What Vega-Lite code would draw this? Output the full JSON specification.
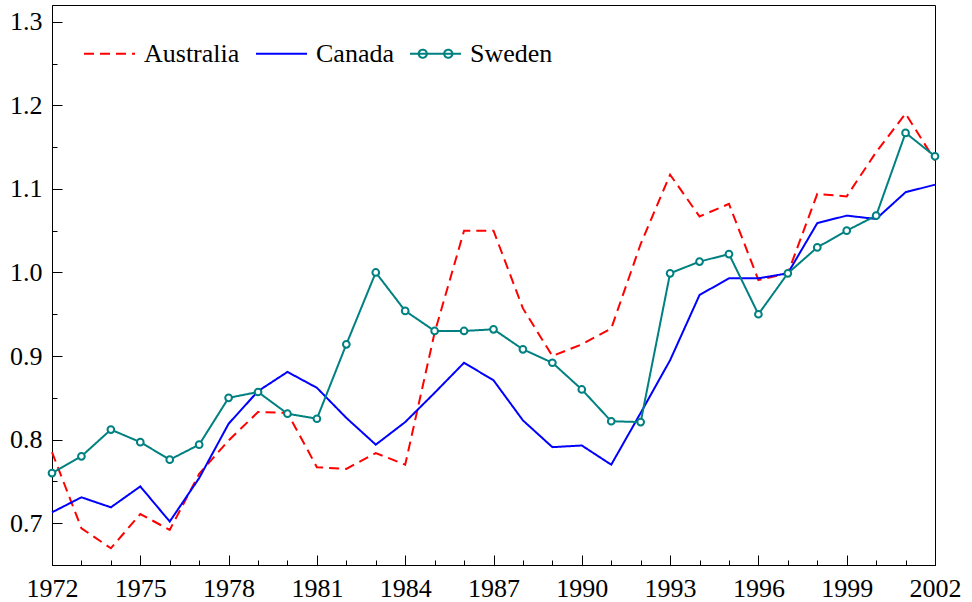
{
  "$schema": "https://vega.github.io/schema/vega-lite/v6.json",
  "width": 883,
  "height": 560,
  "autosize": {"type": "none"},
  "padding": {"left": 52, "top": 5, "right": 37, "bottom": 37},
  "background": "white",
  "config": {
    "view": {"stroke": "black", "strokeWidth": 1},
    "font": "'Liberation Serif', 'DejaVu Serif'",
    "axis": {
      "domainColor": "black", "domainWidth": 1, "tickColor": "black", "tickWidth": 1,
      "labelFont": "'Liberation Serif', 'DejaVu Serif'", "labelFontSize": 26, "labelColor": "black",
      "grid": false, "title": null
    },
    "legend": {"labelFont": "'Liberation Serif', 'DejaVu Serif'"}
  },
  "datasets": {
    "series": [
      {"year": 1972, "country": "Australia", "value": 0.785},
      {"year": 1973, "country": "Australia", "value": 0.694},
      {"year": 1974, "country": "Australia", "value": 0.670},
      {"year": 1975, "country": "Australia", "value": 0.711},
      {"year": 1976, "country": "Australia", "value": 0.692},
      {"year": 1977, "country": "Australia", "value": 0.759},
      {"year": 1978, "country": "Australia", "value": 0.799},
      {"year": 1979, "country": "Australia", "value": 0.833},
      {"year": 1980, "country": "Australia", "value": 0.832},
      {"year": 1981, "country": "Australia", "value": 0.767},
      {"year": 1982, "country": "Australia", "value": 0.765},
      {"year": 1983, "country": "Australia", "value": 0.784},
      {"year": 1984, "country": "Australia", "value": 0.770},
      {"year": 1985, "country": "Australia", "value": 0.928},
      {"year": 1986, "country": "Australia", "value": 1.050},
      {"year": 1987, "country": "Australia", "value": 1.050},
      {"year": 1988, "country": "Australia", "value": 0.957},
      {"year": 1989, "country": "Australia", "value": 0.900},
      {"year": 1990, "country": "Australia", "value": 0.914},
      {"year": 1991, "country": "Australia", "value": 0.933},
      {"year": 1992, "country": "Australia", "value": 1.034},
      {"year": 1993, "country": "Australia", "value": 1.117},
      {"year": 1994, "country": "Australia", "value": 1.067},
      {"year": 1995, "country": "Australia", "value": 1.082},
      {"year": 1996, "country": "Australia", "value": 0.991},
      {"year": 1997, "country": "Australia", "value": 0.999},
      {"year": 1998, "country": "Australia", "value": 1.094},
      {"year": 1999, "country": "Australia", "value": 1.091},
      {"year": 2000, "country": "Australia", "value": 1.144},
      {"year": 2001, "country": "Australia", "value": 1.190},
      {"year": 2002, "country": "Australia", "value": 1.134},
      {"year": 1972, "country": "Canada", "value": 0.713},
      {"year": 1973, "country": "Canada", "value": 0.731},
      {"year": 1974, "country": "Canada", "value": 0.719},
      {"year": 1975, "country": "Canada", "value": 0.744},
      {"year": 1976, "country": "Canada", "value": 0.702},
      {"year": 1977, "country": "Canada", "value": 0.754},
      {"year": 1978, "country": "Canada", "value": 0.819},
      {"year": 1979, "country": "Canada", "value": 0.858},
      {"year": 1980, "country": "Canada", "value": 0.881},
      {"year": 1981, "country": "Canada", "value": 0.862},
      {"year": 1982, "country": "Canada", "value": 0.826},
      {"year": 1983, "country": "Canada", "value": 0.794},
      {"year": 1984, "country": "Canada", "value": 0.821},
      {"year": 1985, "country": "Canada", "value": 0.856},
      {"year": 1986, "country": "Canada", "value": 0.892},
      {"year": 1987, "country": "Canada", "value": 0.871},
      {"year": 1988, "country": "Canada", "value": 0.823},
      {"year": 1989, "country": "Canada", "value": 0.791},
      {"year": 1990, "country": "Canada", "value": 0.793},
      {"year": 1991, "country": "Canada", "value": 0.770},
      {"year": 1992, "country": "Canada", "value": 0.832},
      {"year": 1993, "country": "Canada", "value": 0.895},
      {"year": 1994, "country": "Canada", "value": 0.973},
      {"year": 1995, "country": "Canada", "value": 0.993},
      {"year": 1996, "country": "Canada", "value": 0.993},
      {"year": 1997, "country": "Canada", "value": 0.999},
      {"year": 1998, "country": "Canada", "value": 1.059},
      {"year": 1999, "country": "Canada", "value": 1.068},
      {"year": 2000, "country": "Canada", "value": 1.064},
      {"year": 2001, "country": "Canada", "value": 1.096},
      {"year": 2002, "country": "Canada", "value": 1.105},
      {"year": 1972, "country": "Sweden", "value": 0.760},
      {"year": 1973, "country": "Sweden", "value": 0.780},
      {"year": 1974, "country": "Sweden", "value": 0.812},
      {"year": 1975, "country": "Sweden", "value": 0.797},
      {"year": 1976, "country": "Sweden", "value": 0.776},
      {"year": 1977, "country": "Sweden", "value": 0.794},
      {"year": 1978, "country": "Sweden", "value": 0.850},
      {"year": 1979, "country": "Sweden", "value": 0.857},
      {"year": 1980, "country": "Sweden", "value": 0.831},
      {"year": 1981, "country": "Sweden", "value": 0.825},
      {"year": 1982, "country": "Sweden", "value": 0.914},
      {"year": 1983, "country": "Sweden", "value": 1.000},
      {"year": 1984, "country": "Sweden", "value": 0.954},
      {"year": 1985, "country": "Sweden", "value": 0.930},
      {"year": 1986, "country": "Sweden", "value": 0.930},
      {"year": 1987, "country": "Sweden", "value": 0.932},
      {"year": 1988, "country": "Sweden", "value": 0.908},
      {"year": 1989, "country": "Sweden", "value": 0.892},
      {"year": 1990, "country": "Sweden", "value": 0.860},
      {"year": 1991, "country": "Sweden", "value": 0.822},
      {"year": 1992, "country": "Sweden", "value": 0.821},
      {"year": 1993, "country": "Sweden", "value": 0.999},
      {"year": 1994, "country": "Sweden", "value": 1.013},
      {"year": 1995, "country": "Sweden", "value": 1.022},
      {"year": 1996, "country": "Sweden", "value": 0.950},
      {"year": 1997, "country": "Sweden", "value": 0.999},
      {"year": 1998, "country": "Sweden", "value": 1.030},
      {"year": 1999, "country": "Sweden", "value": 1.050},
      {"year": 2000, "country": "Sweden", "value": 1.068},
      {"year": 2001, "country": "Sweden", "value": 1.167},
      {"year": 2002, "country": "Sweden", "value": 1.139}
    ]
  },
  "data": {"name": "series"},
  "resolve": {"axis": {"x": "independent", "y": "independent"}},
  "layer": [
    {
      "mark": {"type": "line", "strokeWidth": 2},
      "encoding": {
        "x": {
          "field": "year", "type": "quantitative",
          "scale": {"domain": [1972, 2002], "nice": false, "zero": false},
          "axis": {"orient": "bottom", "values": [1972, 1975, 1978, 1981, 1984, 1987, 1990, 1993, 1996, 1999, 2002], "format": "d", "tickSize": -10, "labelPadding": 20, "labelFlush": false}
        },
        "y": {
          "field": "value", "type": "quantitative",
          "scale": {"domain": [0.65, 1.32], "nice": false, "zero": false},
          "axis": {"orient": "left", "values": [0.7, 0.8, 0.9, 1.0, 1.1, 1.2, 1.3], "format": ".1f", "tickSize": -10, "labelPadding": 20}
        },
        "color": {
          "field": "country", "type": "nominal",
          "scale": {"domain": ["Australia", "Canada", "Sweden"], "range": ["#ff0000", "#0000ff", "#008080"]},
          "legend": {
            "orient": "none", "legendX": 31, "legendY": 22, "direction": "horizontal", "title": null,
            "symbolType": "stroke", "symbolSize": 2601, "symbolStrokeWidth": 2,
            "labelFont": "'Liberation Serif', 'DejaVu Serif'", "labelFontSize": 26, "labelColor": "black",
            "labelOffset": 8, "columnPadding": 12,
            "encode": {"symbols": {"update": {"shape": {"signal": "datum.value === 'Sweden' ? 'M-1,0H1M-0.66,0A0.16,0.16,0,1,0,-0.34,0A0.16,0.16,0,1,0,-0.66,0M0.34,0A0.16,0.16,0,1,0,0.66,0A0.16,0.16,0,1,0,0.34,0' : 'stroke'"}}}}
          }
        },
        "strokeDash": {
          "field": "country", "type": "nominal",
          "scale": {"domain": ["Australia", "Canada", "Sweden"], "range": [[10, 6], [1, 0], [1, 0]]}
        }
      }
    },
    {
      "transform": [{"filter": "datum.country === 'Sweden'"}],
      "mark": {"type": "point", "shape": "circle", "filled": false, "fill": "white", "fillOpacity": 1, "stroke": "#008080", "strokeWidth": 2, "size": 45, "opacity": 1},
      "encoding": {
        "x": {
          "field": "year", "type": "quantitative",
          "axis": {"orient": "bottom", "values": [1972, 1973, 1974, 1975, 1976, 1977, 1978, 1979, 1980, 1981, 1982, 1983, 1984, 1985, 1986, 1987, 1988, 1989, 1990, 1991, 1992, 1993, 1994, 1995, 1996, 1997, 1998, 1999, 2000, 2001, 2002], "labels": false, "domain": false, "tickSize": -5}
        },
        "y": {
          "field": "value", "type": "quantitative",
          "axis": {"orient": "left", "values": [0.65, 0.75, 0.85, 0.95, 1.05, 1.15, 1.25], "labels": false, "domain": false, "tickSize": -5}
        }
      }
    }
  ]
}
